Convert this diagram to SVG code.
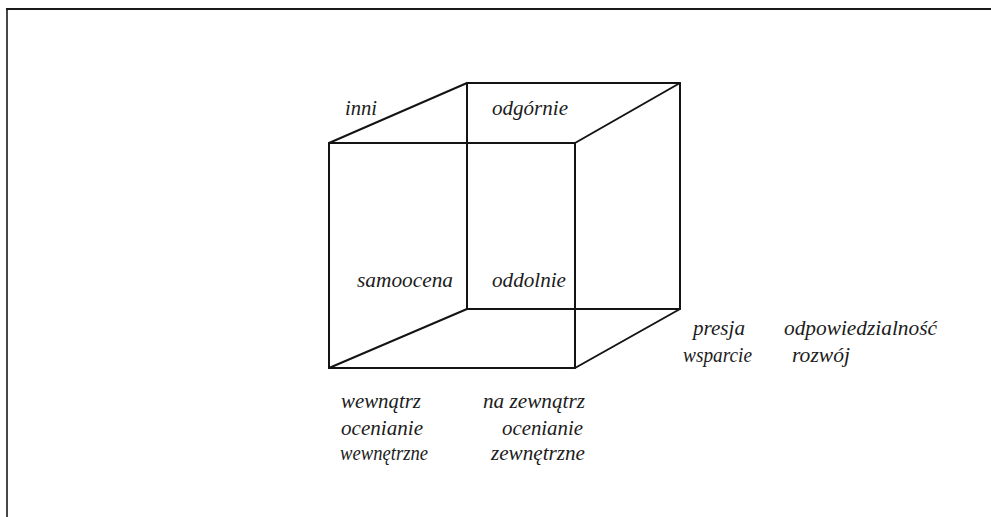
<svg xmlns="http://www.w3.org/2000/svg" width="991" height="517" viewBox="0 0 991 517">
<style>
.ln{stroke:#141414;stroke-width:2;fill:none;stroke-linecap:round;stroke-linejoin:round}
.fr{stroke:#1a1a1a;fill:none}
.t{font-family:"Liberation Serif","Times New Roman",serif;font-style:italic;font-size:20px;fill:#1c1c1c}
</style>
<rect width="991" height="517" fill="#ffffff"/>
<g id="frame">
<line class="fr" x1="6" y1="9" x2="991" y2="9" stroke-width="2.2"/>
<line class="fr" x1="7" y1="9" x2="7" y2="517" stroke-width="1.6"/>
</g>
<g id="cube">
<rect class="ln" x="329" y="143" width="246" height="225"/>
<rect class="ln" x="467" y="83" width="213" height="226"/>
<line class="ln" x1="329" y1="143" x2="467" y2="83"/>
<line class="ln" x1="575" y1="143" x2="680" y2="83"/>
<line class="ln" x1="329" y1="368" x2="467" y2="309"/>
<line class="ln" x1="575" y1="368" x2="680" y2="309"/>
</g>
<g id="labels-top">
<text class="t" x="345" y="115" textLength="32" lengthAdjust="spacingAndGlyphs">inni</text>
<text class="t" x="492" y="115" textLength="76" lengthAdjust="spacingAndGlyphs">odgórnie</text>
</g>
<g id="labels-middle">
<text class="t" x="357" y="287" textLength="96" lengthAdjust="spacingAndGlyphs">samoocena</text>
<text class="t" x="492" y="287" textLength="74" lengthAdjust="spacingAndGlyphs">oddolnie</text>
</g>
<g id="labels-right">
<text class="t" x="693" y="335" textLength="52" lengthAdjust="spacingAndGlyphs">presja</text>
<text class="t" x="784" y="335" textLength="153" lengthAdjust="spacingAndGlyphs">odpowiedzialność</text>
<text class="t" x="683" y="362" textLength="69" lengthAdjust="spacingAndGlyphs">wsparcie</text>
<text class="t" x="792" y="362" textLength="58" lengthAdjust="spacingAndGlyphs">rozwój</text>
</g>
<g id="labels-inside">
<text class="t" x="341" y="408" textLength="80" lengthAdjust="spacingAndGlyphs">wewnątrz</text>
<text class="t" x="341" y="435" textLength="82" lengthAdjust="spacingAndGlyphs">ocenianie</text>
<text class="t" x="340" y="460" textLength="88" lengthAdjust="spacingAndGlyphs">wewnętrzne</text>
</g>
<g id="labels-outside">
<text class="t" x="483" y="408" textLength="102" lengthAdjust="spacingAndGlyphs">na zewnątrz</text>
<text class="t" x="502" y="435" textLength="81" lengthAdjust="spacingAndGlyphs">ocenianie</text>
<text class="t" x="491" y="460" textLength="94" lengthAdjust="spacingAndGlyphs">zewnętrzne</text>
</g>
</svg>
